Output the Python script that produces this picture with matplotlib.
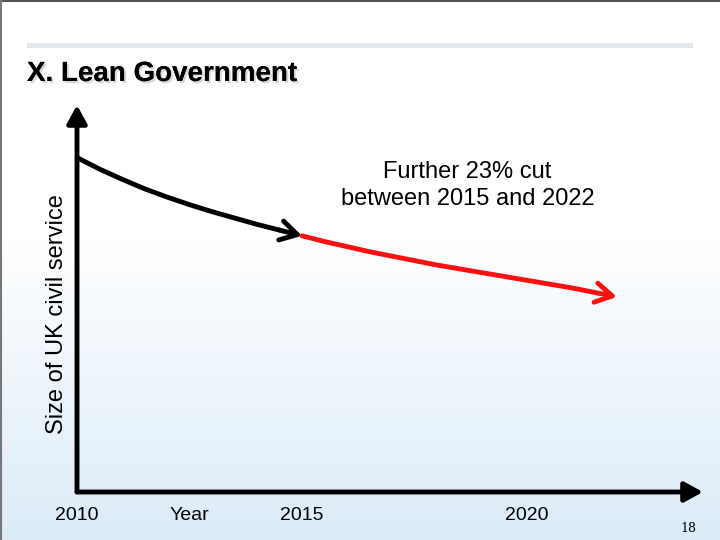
import numpy as np
import matplotlib
matplotlib.use('Agg')
import matplotlib.pyplot as plt
import matplotlib.patheffects as pe
from matplotlib.patches import Rectangle
from matplotlib.lines import Line2D

plt.rcParams['font.family'] = ['Liberation Sans', 'DejaVu Sans']

# размер госслужбы (тыс. чел.), прочитано с картинки по полугодиям
years_past = [2010, 2010.5, 2011, 2011.5, 2012, 2012.5, 2013, 2013.5, 2014, 2014.5, 2015]
size_past = [526, 508, 492, 477, 464, 452, 441, 431, 421, 412, 403]
years_plan = [2015, 2015.5, 2016, 2016.5, 2017, 2017.5, 2018, 2018.5, 2019, 2019.5,
              2020, 2020.5, 2021, 2021.5, 2022]
size_plan = [403, 394, 386, 378, 371, 364, 357, 351, 345, 339, 333, 327, 321, 314, 307]
tick_pos = [2010, 2012.5, 2015, 2020]
tick_lab = ['2010', 'Year', '2015', '2020']

W, H = 720, 540
fig = plt.figure(figsize=(7.2, 5.4), dpi=100)

# фон слайда: белый сверху, голубой снизу
bg = fig.add_axes([0, 0, 1, 1], zorder=-10)
t = np.linspace(0, 1, 256)
w = np.clip((t - 0.45) / 0.55, 0, 1)
top = np.array([1.0, 1.0, 1.0])
bot = np.array([218, 235, 248]) / 255
grad = top[None, :] * (1 - w[:, None]) + bot[None, :] * w[:, None]
bg.imshow(grad[:, None, :], aspect='auto', extent=[0, 1, 1, 0])
bg.set_xlim(0, 1)
bg.set_ylim(1, 0)
bg.axis('off')

# рамка и полоса сверху
fig.add_artist(Line2D([0, 1], [1 - 1 / H, 1 - 1 / H], color='#555555', lw=1.5))
fig.add_artist(Line2D([1 / W, 1 / W], [0, 1], color='#777777', lw=1.5))
fig.add_artist(Rectangle((27 / W, 1 - 48 / H), 666 / W, 5 / H, color='#e3e8f0', lw=0))

title = fig.text(27 / W, 1 - 74 / H, 'X. Lean Government', fontsize=20, fontweight='bold',
                 va='center', ha='left')
title.set_path_effects([pe.withSimplePatchShadow(offset=(1.5, -1.5), shadow_rgbFace='#aaaaaa', alpha=0.45),
                        pe.Normal()])
fig.text(688 / W, 1 - 528 / H, '18', fontsize=9, family='DejaVu Serif', ha='center', va='center')

# оси графика
ax = fig.add_axes([77 / W, 48 / H, 626 / W, 387 / H])
ax.patch.set_alpha(0)
ax.set_xlim(2010, 2010 + 626 / 45)
ax.set_ylim(0, 387 / 0.6357)
for s in ax.spines.values():
    s.set_visible(False)
ax.set_yticks([])
ax.set_xticks(tick_pos)
ax.set_xticklabels(tick_lab, fontsize=14)
ax.tick_params(axis='x', length=0, pad=11)

axis_arrow = dict(arrowstyle='-|>,head_length=0.55,head_width=0.3', lw=3.5, color='black',
                  mutation_scale=20, shrinkA=0, shrinkB=0)
ax.annotate('', xy=(0, 1), xytext=(0, 0), xycoords='axes fraction', arrowprops=axis_arrow)
ax.annotate('', xy=(1, 0), xytext=(0, 0), xycoords='axes fraction', arrowprops=axis_arrow)

ax.set_ylabel('Size of UK civil service', fontsize=17)
ax.yaxis.set_label_coords(-0.014, 0.46)

# кривые
head = '->,head_length=0.6,head_width=0.35'
ax.plot(years_past[:-1], size_past[:-1], color='black', lw=3.5,
        solid_capstyle='round', solid_joinstyle='round')
ax.annotate('', xy=(years_past[-1], size_past[-1]), xytext=(years_past[-2], size_past[-2]),
            arrowprops=dict(arrowstyle=head, lw=3.5, color='black',
                            mutation_scale=20, shrinkA=0, shrinkB=0))
ax.plot(years_plan[:-1], size_plan[:-1], color='#ff1010', lw=3.5,
        solid_capstyle='round', solid_joinstyle='round')
ax.annotate('', xy=(years_plan[-1], size_plan[-1]), xytext=(years_plan[-2], size_plan[-2]),
            arrowprops=dict(arrowstyle=head, lw=3.5, color='#ff1010',
                            mutation_scale=20, shrinkA=0, shrinkB=0))

ax.text(0.624, 0.792, 'Further 23% cut\nbetween 2015 and 2022', transform=ax.transAxes,
        fontsize=17, ha='center', va='center', linespacing=1.25)

fig.savefig('out.png', dpi=100)
